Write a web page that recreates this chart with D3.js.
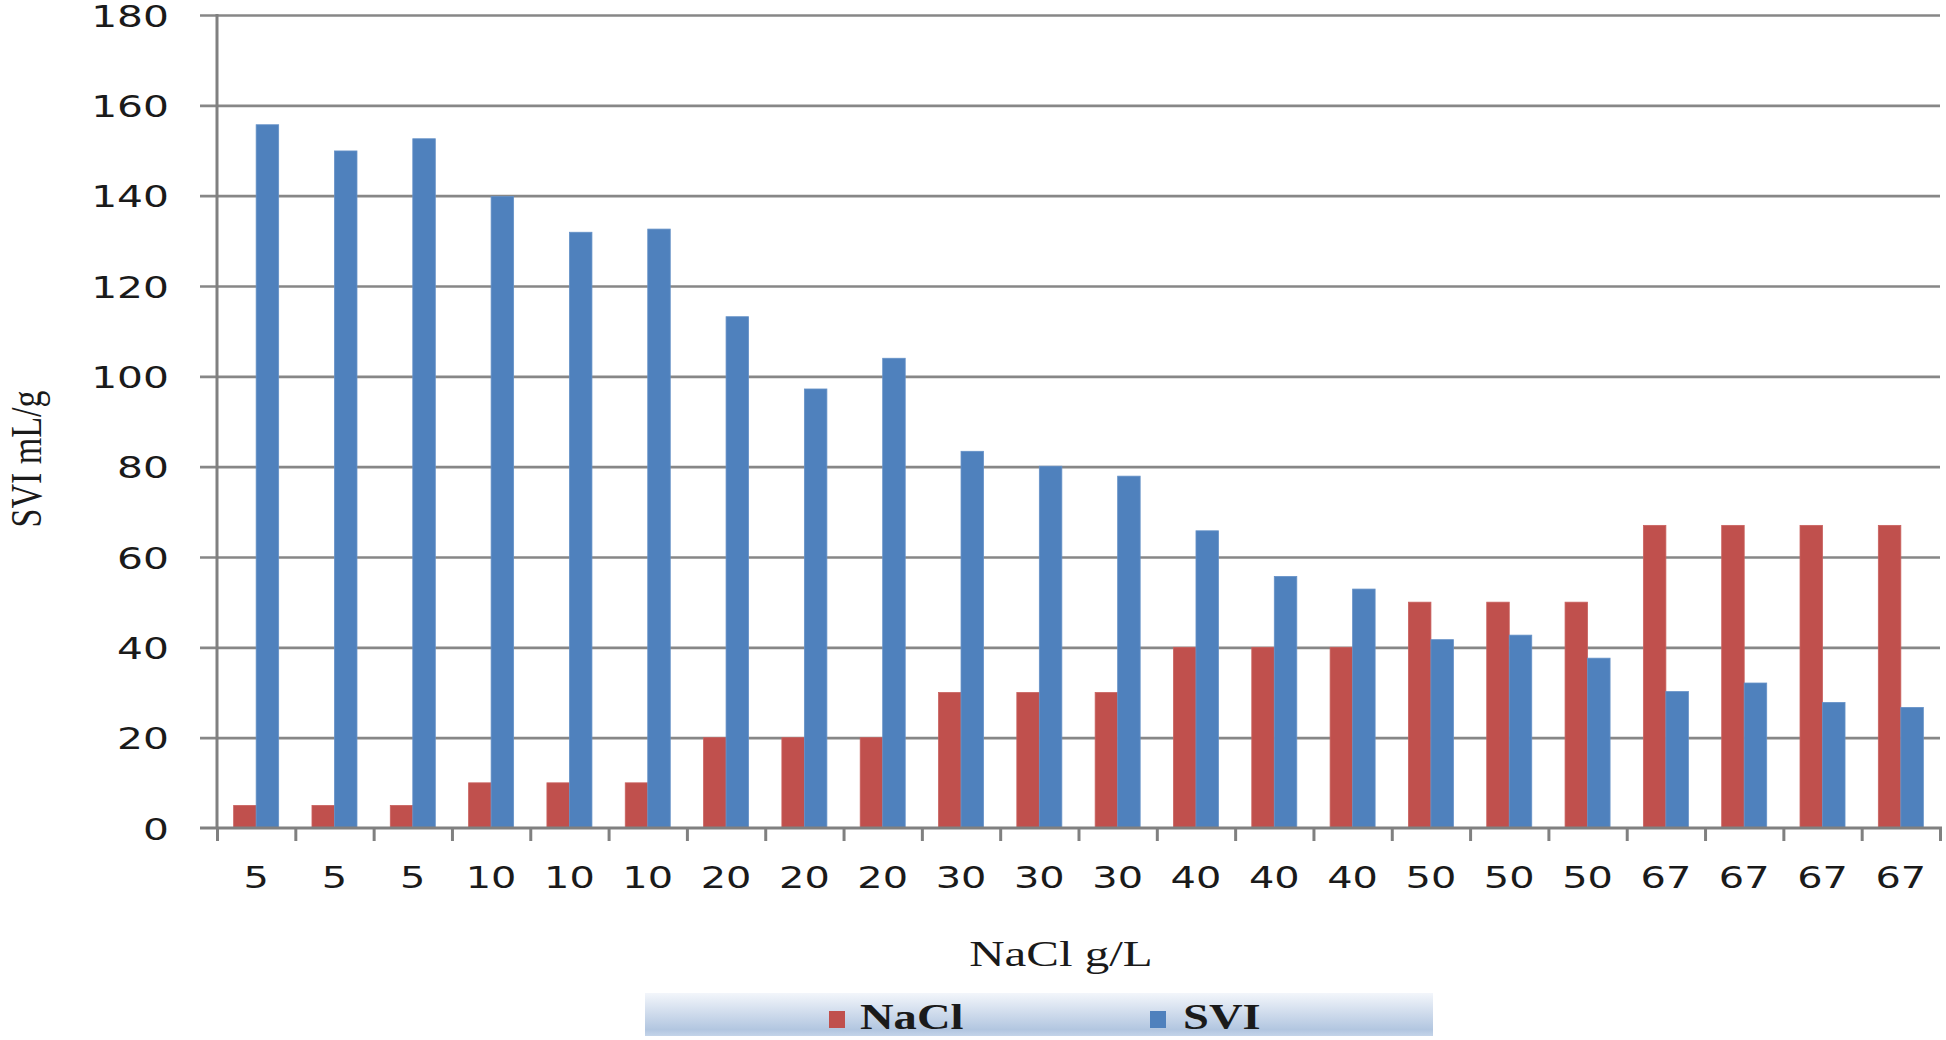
<!DOCTYPE html>
<html>
<head>
<meta charset="utf-8">
<script src="https://cdn.jsdelivr.net/npm/d3@7"></script>
<style>
  html, body { margin: 0; padding: 0; background: #fff; }
  svg { display: block; }
</style>
</head>
<body>
<svg id="chart" width="1946" height="1040"></svg>
<script>
// ---- Data ----
const categories = ["5","5","5","10","10","10","20","20","20","30","30","30","40","40","40","50","50","50","67","67","67","67"];
const naclValues = [5,5,5,10,10,10,20,20,20,30,30,30,40,40,40,50,50,50,67,67,67,67];
const sviValues = [155.7,149.9,152.6,139.8,131.9,132.6,113.2,97.2,104,83.4,80.1,77.9,65.8,55.7,52.9,41.7,42.7,37.6,30.2,32.1,27.8,26.7];
const seriesNames = ["NaCl", "SVI"];
const yTicks = [0,20,40,60,80,100,120,140,160,180];
const xTitle = "NaCl g/L";
const yTitle = "SVI mL/g";

(function () {
// ---- Layout ----
const colors = { NaCl: "#C0504D", SVI: "#4F81BD" };
const pLeft = 217, pRight = 1940, pTop = 15, pBottom = 828;
const SX = 1.33; // horizontal stretch of the reference's text

const svg = d3.select("#chart");
const defs = svg.append("defs");

const x0 = d3.scaleBand().domain(d3.range(categories.length)).range([pLeft, pRight]).padding(0);
const x1 = d3.scaleBand().domain(seriesNames).range([0, x0.bandwidth()]).paddingInner(0).paddingOuter(0.74);
const y = d3.scaleLinear().domain([0, 180]).range([pBottom, pTop]);
const xEdge = d3.scaleLinear().domain([0, categories.length]).range([pLeft, pRight]);

// gridlines
const grid = svg.append("g")
  .attr("transform", `translate(200,0)`)
  .call(d3.axisRight(y).tickValues(yTicks.slice(1)).tickSize(pRight - 200).tickFormat(""));
grid.select(".domain").remove();
grid.selectAll("line").attr("stroke", "#878787").attr("stroke-width", 2.6);

// y-axis labels
const yAxis = svg.append("g")
  .attr("transform", `translate(${pLeft},0)`)
  .call(d3.axisLeft(y).tickValues(yTicks).tickSize(0).tickFormat(d3.format("d")));
yAxis.select(".domain").remove();
yAxis.selectAll("text")
  .attr("x", null).attr("dy", null)
  .attr("transform", `translate(-48,11) scale(1.36,1)`)
  .attr("text-anchor", "end")
  .style("font-family", "'DejaVu Sans', Verdana, sans-serif")
  .style("font-size", "30px")
  .attr("fill", "#1a1a1a");

// bars
const data = categories.map((c, i) => ({ i, values: [{ key: "NaCl", v: naclValues[i] }, { key: "SVI", v: sviValues[i] }] }));
const groups = svg.append("g").selectAll("g").data(data).join("g")
  .attr("transform", d => `translate(${x0(d.i)},0)`);
groups.selectAll("rect").data(d => d.values).join("rect")
  .attr("x", d => x1(d.key))
  .attr("width", x1.bandwidth())
  .attr("y", d => y(d.v))
  .attr("height", d => y(0) - y(d.v))
  .attr("fill", d => colors[d.key])
  .attr("stroke", d => d.key === "NaCl" ? "#c9625f" : "#6591c7")
  .attr("stroke-width", 0.8);

// y-axis line
svg.append("line")
  .attr("x1", pLeft).attr("x2", pLeft)
  .attr("y1", y(180) - 1).attr("y2", y(0))
  .attr("stroke", "#808080").attr("stroke-width", 3);

// zero line with left tick
svg.append("line")
  .attr("x1", 200).attr("x2", pRight + 2)
  .attr("y1", y(0)).attr("y2", y(0))
  .attr("stroke", "#808080").attr("stroke-width", 3);

// x-axis boundary ticks
const xTicks = svg.append("g")
  .attr("transform", `translate(0,${pBottom})`)
  .call(d3.axisBottom(xEdge).tickValues(d3.range(categories.length + 1)).tickSize(13).tickFormat(""));
xTicks.select(".domain").remove();
xTicks.selectAll("line").attr("stroke", "#808080").attr("stroke-width", 3);

// x-axis category labels
const xAxis = svg.append("g")
  .attr("transform", `translate(0,${pBottom})`)
  .call(d3.axisBottom(x0).tickSize(0).tickFormat(i => categories[i]));
xAxis.select(".domain").remove();
xAxis.selectAll("text")
  .attr("y", null).attr("dy", null)
  .attr("transform", `translate(0,60) scale(${SX},1)`)
  .attr("text-anchor", "middle")
  .style("font-family", "'DejaVu Sans', Verdana, sans-serif")
  .style("font-size", "30px")
  .attr("fill", "#1a1a1a");

// axis titles
svg.append("text")
  .attr("transform", `translate(1061,966) scale(1.36,1)`)
  .attr("text-anchor", "middle")
  .style("font-family", "'Liberation Serif', 'Times New Roman', serif")
  .style("font-size", "36px")
  .attr("fill", "#1a1a1a")
  .text(xTitle);

svg.append("text")
  .attr("transform", `translate(41,459) scale(${SX},1) rotate(-90)`)
  .attr("text-anchor", "middle")
  .style("font-family", "'Liberation Serif', 'Times New Roman', serif")
  .style("font-size", "34px")
  .attr("fill", "#1a1a1a")
  .text(yTitle);

// legend
const grad = defs.append("linearGradient").attr("id", "legGrad")
  .attr("x1", 0).attr("y1", 0).attr("x2", 0).attr("y2", 1);
grad.append("stop").attr("offset", "0%").attr("stop-color", "#f3f6fb");
grad.append("stop").attr("offset", "85%").attr("stop-color", "#b2c6e0");
grad.append("stop").attr("offset", "100%").attr("stop-color", "#c4d4e9");

svg.append("rect")
  .attr("x", 645).attr("y", 993).attr("width", 788).attr("height", 43)
  .attr("fill", "url(#legGrad)");

const legendItems = [
  { key: "NaCl", sx: 829, tx: 860 },
  { key: "SVI", sx: 1150, tx: 1183 }
];
const leg = svg.append("g").selectAll("g").data(legendItems).join("g");
leg.append("rect")
  .attr("x", d => d.sx).attr("y", 1011)
  .attr("width", 16).attr("height", 17)
  .attr("fill", d => colors[d.key]);
leg.append("text")
  .attr("transform", d => `translate(${d.tx},1029) scale(${SX},1)`)
  .style("font-family", "'Liberation Serif', 'Times New Roman', serif")
  .style("font-size", "35px")
  .style("font-weight", "bold")
  .attr("fill", "#1a1a1a")
  .text(d => d.key);
})();
</script>
</body>
</html>
